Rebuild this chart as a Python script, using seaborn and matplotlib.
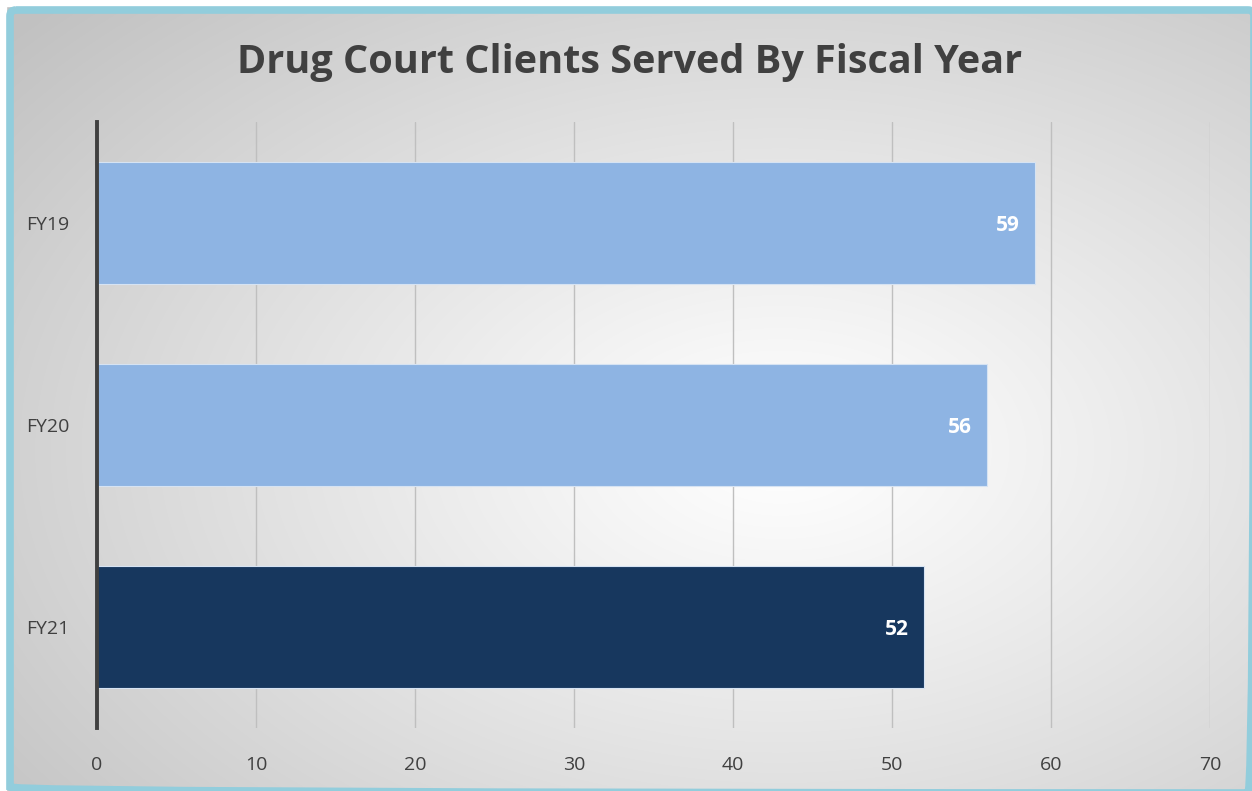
import numpy as np
import pandas as pd
import matplotlib
matplotlib.use("Agg")
import matplotlib.pyplot as plt
from matplotlib.patches import FancyBboxPatch
import seaborn as sns

# Data
years = ["FY19", "FY20", "FY21"]
clients = [59, 56, 52]
bar_colors = ["#8EB4E3", "#8EB4E3", "#17375E"]
x_ticks = [0, 10, 20, 30, 40, 50, 60, 70]

df = pd.DataFrame({"year": years, "clients": clients})

sns.set_theme(style="white")
plt.rcParams["font.family"] = ["Open Sans", "DejaVu Sans"]

W, H = 1252, 791
fig = plt.figure(figsize=(W / 100, H / 100), dpi=100)
fig.patch.set_facecolor("white")

# Radial gradient backdrop
bg = fig.add_axes([0, 0, 1, 1], zorder=-10)
yy, xx = np.mgrid[0:H, 0:W]
cx, cy = 780, 450
d = np.sqrt(((xx - cx) / W) ** 2 + ((yy - cy) / H) ** 2)
d = d / d.max()
shade = 1.0 - 0.24 * np.clip(d * 1.05, 0, 1) ** 1.1
img = np.dstack([shade, shade, shade])
bg.imshow(img, extent=[0, W, H, 0], aspect="auto", interpolation="bilinear")
bg.set_xlim(0, W)
bg.set_ylim(H, 0)
bg.axis("off")

# white margin on the top and left, then the frame
for rect in [(0, 0, W, 6), (0, 0, 6, H)]:
    bg.add_patch(plt.Rectangle(rect[:2], rect[2], rect[3], color="white", zorder=4))
frame = FancyBboxPatch((10, 10), W - 8, H - 8,
                       boxstyle="round,pad=0,rounding_size=6",
                       transform=bg.transData, fill=False,
                       edgecolor="#92CDDC", linewidth=5.5, zorder=5)
bg.add_patch(frame)

ax = fig.add_axes([97 / W, 1 - 728 / H, (1210 - 97) / W, (728 - 122) / H])
ax.patch.set_alpha(0)

sns.barplot(data=df, x="clients", y="year", hue="year",
            palette=dict(zip(years, bar_colors)), orient="h",
            width=0.6, saturation=1, legend=False, ax=ax, zorder=3,
            edgecolor="#D6E3F3", linewidth=0.8)

ax.set_xlim(0, 70)
ax.set_ylim(2.5, -0.5)
ax.set_xticks(x_ticks)
ax.set_xticklabels([str(t) for t in x_ticks])
ax.grid(axis="x", color="#BFBFBF", linewidth=1.0, zorder=0)
ax.grid(axis="y", visible=False)
ax.set_axisbelow(True)

for s in ["top", "right", "bottom"]:
    ax.spines[s].set_visible(False)
ax.spines["left"].set_color("#404040")
ax.spines["left"].set_linewidth(2.8)
ax.spines["left"].set_zorder(4)

ax.tick_params(axis="x", length=0, pad=20, labelsize=14, labelcolor="#404040")
ax.tick_params(axis="y", length=0, pad=20, labelsize=14, labelcolor="#404040")
ax.set_xlabel("")
ax.set_ylabel("")

# value labels just inside the end of each bar
for i, v in enumerate(clients):
    ax.annotate(f"{v}", xy=(v, i), xytext=(-11, -1.5), textcoords="offset points",
                ha="right", va="center", color="white", fontsize=15,
                fontweight="bold", zorder=6)

fig.text(630 / W, 1 - 63 / H, "Drug Court Clients Served By Fiscal Year",
         ha="center", va="center", fontsize=28.5, fontweight="bold",
         color="#404040")

fig.savefig("out.png", dpi=100)
